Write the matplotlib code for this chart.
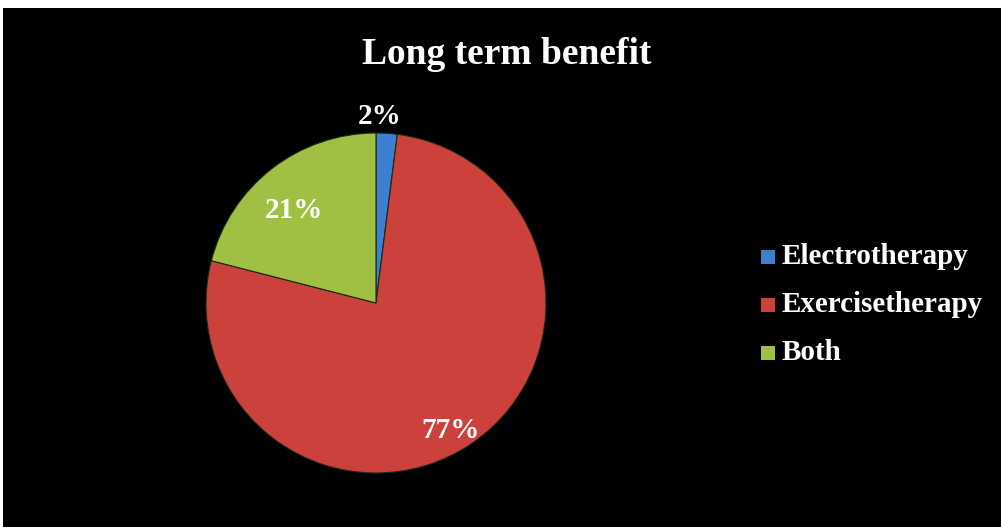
import matplotlib
matplotlib.use("Agg")
import matplotlib.pyplot as plt
from matplotlib.patches import Rectangle

categories = ["Electrotherapy", "Exercisetherapy", "Both"]
values = [2, 77, 21]
colors = ["#3d7fd0", "#cc413b", "#9fc043"]

W, H = 1001, 527
fig = plt.figure(figsize=(W / 100, H / 100), dpi=100, facecolor="white")

# black chart area with thin white margin at top and left
fig.patches.append(Rectangle((3 / W, 0), 1 - 3 / W, 1 - 8 / H,
                             transform=fig.transFigure, facecolor="black",
                             edgecolor="none", zorder=-5))

font = "Liberation Serif"
R = 170
cx, cy = 376, 303
ax = fig.add_axes([(cx - R) / W, (H - cy - R) / H, 2 * R / W, 2 * R / H])
ax.set_facecolor("none")
ax.set_zorder(2)

wedges, _ = ax.pie(values, colors=colors, startangle=90, counterclock=False,
                   radius=1.0,
                   wedgeprops=dict(edgecolor="#1a2a10", linewidth=0.8))
ax.set_xlim(-1, 1)
ax.set_ylim(-1, 1)
ax.set_aspect("equal")
ax.axis("off")

# percentage labels (Electrotherapy, Exercisetherapy, Both)
label_pos = [(380, 116), (451, 430), (294, 211)]
for v, (px, py) in zip(values, label_pos):
    fig.text(px / W, 1 - py / H, f"{v}%", ha="center", va="center",
             color="white", fontsize=21, fontweight="bold", family=font,
             zorder=5)

fig.text(507 / W, 1 - 54 / H, "Long term benefit", ha="center", va="center",
         color="white", fontsize=27, fontweight="bold", family=font)

# legend
leg_y = [257, 305, 353]
for name, col, ly in zip(categories, colors, leg_y):
    fig.patches.append(Rectangle((761 / W, 1 - (ly + 7) / H), 14 / W, 14 / H,
                                 transform=fig.transFigure, facecolor=col,
                                 edgecolor="none", zorder=3))
    fig.text(782 / W, 1 - ly / H, name, ha="left", va="center",
             color="white", fontsize=21, fontweight="bold", family=font)

fig.savefig("out.png", dpi=100, facecolor=fig.get_facecolor())
